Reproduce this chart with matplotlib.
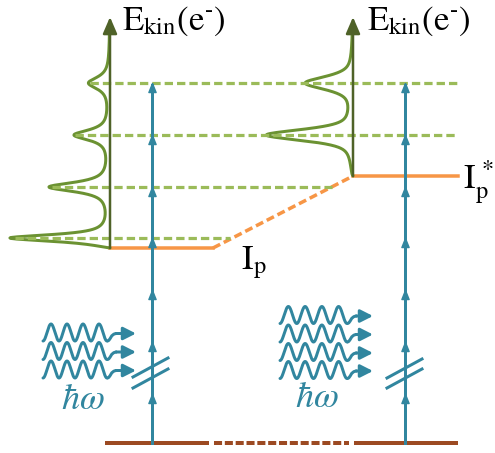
import numpy as np
import matplotlib.pyplot as plt
from matplotlib.path import Path
from matplotlib.patches import PathPatch

plt.rcParams['mathtext.fontset'] = 'stix'
plt.rcParams['lines.scale_dashes'] = False

BLUE = '#31869f'
OLIVE_DARK = '#4f6228'
OLIVE = '#6b9232'
OLIVE_LIGHT = '#9bbb59'
ORANGE = '#f79646'
BROWN = '#9c4a22'

# energy levels, in pixel rows (y grows downward)
ground_y = 443
ip_y = 248
ip_star_y = 176
photon_tips = [83, 135, 187, 238, 290, 342, 394]

# dashed ATI levels
ati_y = [83, 135, 187, 238]
ati_x0 = [90, 75, 52, 15]
ati_x1 = [458, 458, 332, 230]

# photoelectron spectra: peak centre, height, half width
left_peaks_y = [238, 187, 135, 83]
left_peaks_h = [100, 60, 35, 21]
left_peaks_w = [4.0, 5.5, 6.0, 7.0]
right_peaks_y = [135, 83]
right_peaks_h = [86, 47]
right_peaks_w = [6.5, 7.5]

axis_x = [110, 353]
axis_base = [ip_y, ip_star_y]
axis_tip = 17
blue_x = [152, 405]

# incoming photons
left_waves_y = [332.5, 351, 369.5]
right_waves_y = [315, 333.5, 352, 370]
left_wave_span = (43, 107, 136)
right_wave_span = (280, 347, 373)

# double slash across the photon ladder
left_slash = [((133, 377), (168, 358)), ((133, 388), (168, 369))]
right_slash = [((387, 378), (422, 359)), ((387, 388), (422, 369))]

fig = plt.figure(figsize=(4.95, 4.53), dpi=100)
ax = fig.add_axes([0, 0, 1, 1])
ax.set_xlim(0, 495)
ax.set_ylim(453, 0)
ax.axis('off')

PX = 0.72  # points per pixel at 100 dpi


def spectrum(ax, x_axis, y_base, centers, heights, widths, eta):
    ys = np.linspace(25, y_base, 800)
    prof = np.zeros_like(ys)
    for c, h, w in zip(centers, heights, widths):
        lor = w ** 2 / ((ys - c) ** 2 + w ** 2)
        gau = np.exp(-np.log(2) * (ys - c) ** 2 / w ** 2)
        prof += h * (eta * lor + (1 - eta) * gau)
    prof *= 1 - np.exp(-(y_base - ys) / 2.0)
    ax.plot(x_axis - prof, ys, color=OLIVE, lw=3 * PX, zorder=3,
            solid_capstyle='round')


def wavy(ax, span, yc, amp=8.5):
    x0, x1, tip = span
    xs = np.linspace(x0, x1, 300)
    per = (x1 - x0) / 4
    ys = yc + amp * np.cos(2 * np.pi * (xs - x0) / per)
    ax.plot(xs, ys, color=BLUE, lw=3 * PX, solid_capstyle='round', zorder=4)
    tail = Path([(x1, yc + amp), (x1 + 4, yc + amp), (x1 + 3, yc + 1),
                 (x1 + 10, yc + 1)],
                [Path.MOVETO, Path.CURVE4, Path.CURVE4, Path.CURVE4])
    ax.add_patch(PathPatch(tail, fill=False, ec=BLUE, lw=3 * PX, zorder=4))
    ax.annotate('', xy=(tip, yc + 1), xytext=(x1 + 9, yc + 1),
                arrowprops=dict(arrowstyle='-|>,head_length=0.75,head_width=0.38',
                                mutation_scale=10, color=BLUE, lw=3 * PX,
                                shrinkA=0, shrinkB=0), zorder=4)


# ground state line, solid under each ladder and dashed between
ax.plot([105, 209], [ground_y, ground_y], color=BROWN, lw=4 * PX,
        solid_capstyle='butt')
ax.plot([214, 349], [ground_y, ground_y], color=BROWN, lw=4 * PX,
        linestyle=(0, (5.8, 2.0)), dash_capstyle='butt')
ax.plot([354, 458], [ground_y, ground_y], color=BROWN, lw=4 * PX,
        solid_capstyle='butt')

# ionisation potential: unshifted, shifted and the link between them
ax.plot([axis_x[0], 213], [ip_y, ip_y], color=ORANGE, lw=3.5 * PX, zorder=2)
ax.plot([213, axis_x[1]], [ip_y, ip_star_y], color=ORANGE, lw=3.5 * PX,
        linestyle=(0, (5.8, 2.9)), zorder=2)
ax.plot([axis_x[1], 458], [ip_star_y, ip_star_y], color=ORANGE,
        lw=3.5 * PX, zorder=2)

# spectra
spectrum(ax, axis_x[0], axis_base[0], left_peaks_y, left_peaks_h,
         left_peaks_w, 0.9)
spectrum(ax, axis_x[1], axis_base[1], right_peaks_y, right_peaks_h,
         right_peaks_w, 0.6)

# ATI peak levels
for y, xa, xb in zip(ati_y, ati_x0, ati_x1):
    ax.plot([xa, xb], [y, y], color=OLIVE_LIGHT, lw=3.2 * PX,
            linestyle=(0, (6.0, 2.9)), dash_capstyle='butt', zorder=5)

# kinetic energy axes
for xa, yb in zip(axis_x, axis_base):
    ax.annotate('', xy=(xa, axis_tip), xytext=(xa, yb),
                arrowprops=dict(arrowstyle='-|>,head_length=1.0,head_width=0.43',
                                mutation_scale=10, color=OLIVE_DARK,
                                lw=2.5 * PX, shrinkA=0, shrinkB=0), zorder=6)

# photon ladders
tip_marker = Path([(0, 0), (-0.4, -1), (0.4, -1), (0, 0)],
                  [Path.MOVETO, Path.LINETO, Path.LINETO, Path.CLOSEPOLY])
for xb in blue_x:
    ax.plot([xb, xb], [ground_y, photon_tips[0] + 2], color=BLUE,
            lw=3 * PX, zorder=7)
    ax.plot([xb] * len(photon_tips), photon_tips, linestyle='none',
            marker=tip_marker, markersize=13, color=BLUE, zorder=7)

for slash in (left_slash, right_slash):
    for (xa, ya), (xb, yb) in slash:
        ax.plot([xa, xb], [ya, yb], color=BLUE, lw=3 * PX, zorder=7)

for yc in left_waves_y:
    wavy(ax, left_wave_span, yc)
for yc in right_waves_y:
    wavy(ax, right_wave_span, yc)

# labels
ekin = r'$\mathrm{E_{kin}(e^{\text{-}})}$'
ax.text(122, 30, ekin, fontsize=25, va='baseline', ha='left')
ax.text(367, 30, ekin, fontsize=25, va='baseline', ha='left')
ax.text(241, 269, r'$\mathrm{I_p}$', fontsize=25, va='baseline')
ax.text(463, 188, r'$\mathrm{I_p^{\,*}}$', fontsize=25, va='baseline')
ax.text(83, 399, r'$\hbar\omega$', color=BLUE, fontsize=26,
        ha='center', va='center')
ax.text(317, 397, r'$\hbar\omega$', color=BLUE, fontsize=26,
        ha='center', va='center')

fig.savefig('out.png', dpi=100)
